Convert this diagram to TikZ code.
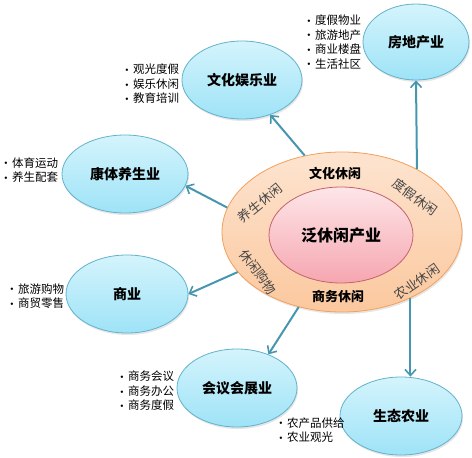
\documentclass[tikz,border=0pt]{standalone}
\usepackage{fontspec}
\setmainfont{Noto Sans CJK SC}
\usetikzlibrary{shapes.geometric,arrows.meta,shadows}

\definecolor{bluefill}{RGB}{212,244,252}
\definecolor{bluefillb}{RGB}{158,227,247}
\definecolor{blueline}{RGB}{98,178,204}
\definecolor{ringfill}{RGB}{253,228,208}
\definecolor{ringfillb}{RGB}{251,200,158}
\definecolor{ringline}{RGB}{243,160,90}
\definecolor{corefill}{RGB}{253,230,232}
\definecolor{corefillb}{RGB}{246,166,176}
\definecolor{coreline}{RGB}{196,98,110}
\definecolor{linkcol}{RGB}{70,150,175}
\definecolor{ringtext}{RGB}{70,70,70}

\newcommand{\itm}{\makebox[8pt][l]{\raisebox{.2em}{\tiny$\bullet$}}}

\begin{document}
\begin{tikzpicture}[x=1pt, y=-1pt,
    sector/.style={ellipse, draw=blueline, line width=0.8pt, top color=bluefill, bottom color=bluefillb,
      inner sep=0pt, minimum width=120pt, minimum height=78pt, font=\fontsize{14}{16}\selectfont\bfseries,
      drop shadow={opacity=0.2, shadow xshift=1pt, shadow yshift=-2pt}},
    items/.style={anchor=west, inner sep=0pt, align=left, font=\fontsize{11.5}{14.5}\selectfont},
    ringlabel/.style={text=ringtext, inner sep=0pt, font=\fontsize{13}{15}\selectfont},
    link/.style={draw=linkcol, line width=2pt, -{Straight Barb[length=6pt, width=11pt, line width=1.6pt]}}]
  \useasboundingbox (0,0) rectangle (472,458);

  % Centre rings
  \node[ellipse, draw=ringline, line width=0.8pt, top color=ringfill, bottom color=ringfillb,
    minimum width=240pt, minimum height=160pt, inner sep=0pt,
    drop shadow={opacity=0.2, shadow xshift=1pt, shadow yshift=-2pt}] (ring) at (342,232) {};
  \node[ellipse, draw=coreline, line width=0.8pt, top color=corefill, bottom color=corefillb,
    minimum width=144pt, minimum height=96pt, inner sep=0pt,
    font=\fontsize{16}{18}\selectfont\bfseries] (core) at (341,235) {泛休闲产业};

  % Ring labels
  \node[ringlabel, font=\fontsize{13}{15}\selectfont\bfseries, text=black] (culture) at (335,173) {文化休闲};
  \node[ringlabel, rotate=-36] (resort) at (415,197) {度假休闲};
  \node[ringlabel, rotate=39] (health) at (260,203) {养生休闲};
  \node[ringlabel, rotate=-53] (shopping) at (258,272) {休闲购物};
  \node[ringlabel, font=\fontsize{13}{15}\selectfont\bfseries, text=black] (business) at (338,297) {商务休闲};
  \node[ringlabel, rotate=35] (farming) at (417,282) {农业休闲};

  % Sectors
  \node[sector] (wenhua) at (242,80) {文化娱乐业};
  \node[sector, minimum width=106pt, minimum height=76pt] (fangdi) at (416,42) {房地产业};
  \node[sector, minimum width=126pt] (kangti) at (125,174) {康体养生业};
  \node[sector, minimum width=122pt] (shangye) at (127,294) {商业};
  \node[sector] (huiyi) at (237,388) {会议会展业};
  \node[sector, minimum width=122pt] (shengtai) at (401,416) {生态农业};

  % Bullet lists
  \node[items] (wenhuaList) at (125,84) {\itm 观光度假\\\itm 娱乐休闲\\\itm 教育培训};
  \node[items] (fangdiList) at (307,42) {\itm 度假物业\\\itm 旅游地产\\\itm 商业楼盘\\\itm 生活社区};
  \node[items] (kangtiList) at (4,170) {\itm 体育运动\\\itm 养生配套};
  \node[items] (shangyeList) at (10,296) {\itm 旅游购物\\\itm 商贸零售};
  \node[items] (huiyiList) at (120,391) {\itm 商务会议\\\itm 商务办公\\\itm 商务度假};
  \node[items] (shengtaiList) at (279,430) {\itm 农产品供给\\\itm 农业观光};

  % Arrows
  \draw[link] (ring.116.6) -- (wenhua.309);
  \draw[link] (ring.40.5) -- (fangdi.south);
  \draw[link] (ring.168) -- (kangti.349);
  \draw[link] (ring.201) -- (shangye.east);
  \draw[link] (ring.240.6) -- (huiyi.47);
  \draw[link] (ring.316) -- (ring.316 |- shengtai.north);
\end{tikzpicture}
\end{document}
